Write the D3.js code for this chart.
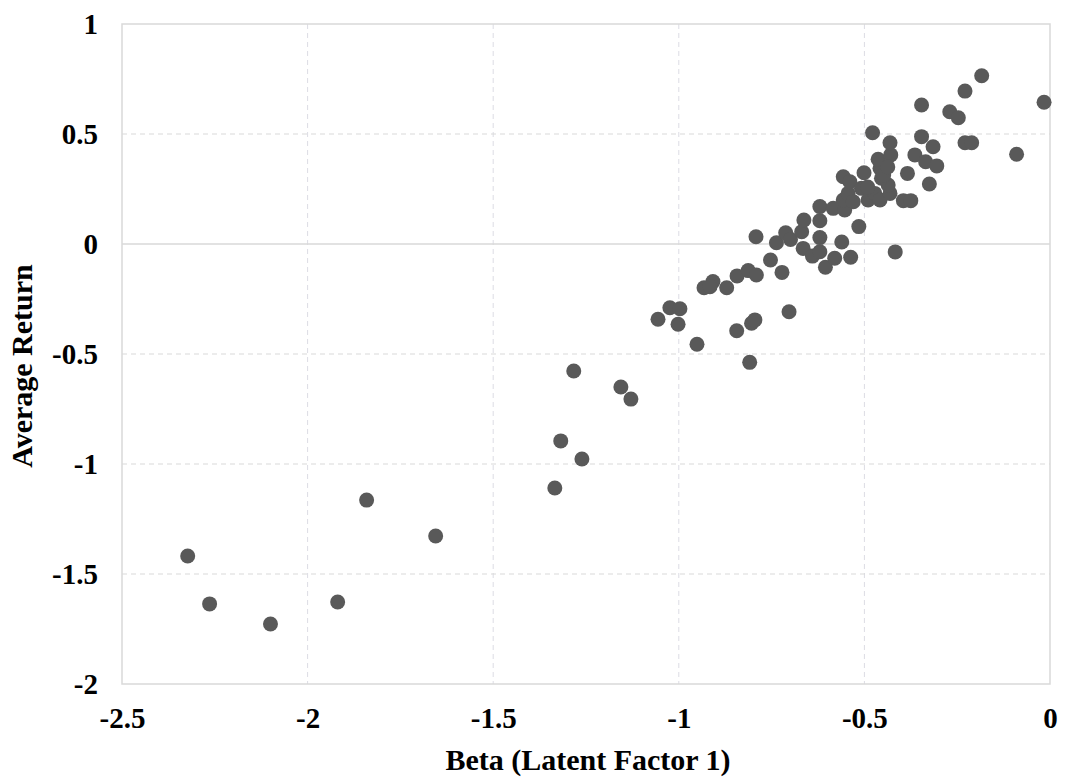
<!DOCTYPE html>
<html>
<head>
<meta charset="utf-8">
<script src="https://d3js.org/d3.v7.min.js"></script>
<style>
  body { margin: 0; background: #fff; }
  svg { display: block; }
</style>
</head>
<body>
<div id="chart"></div>
<script>
// Beta (latent factor 1) per asset
const betas = [
    -2.323, -2.264, -2.100, -1.919, -1.841, -1.655, -1.334, -1.318, -1.261, -1.283, -1.156, -1.129,
    -1.056, -1.024, -0.997, -1.002, -0.951, -0.809, -0.844, -0.804, -0.795, -0.703,
    -0.932, -0.908, -0.916, -0.871, -0.843, -0.813, -0.791, -0.753, -0.722,
    -0.792, -0.737, -0.712, -0.699, -0.665, -0.640, -0.620, -0.605, -0.580, -0.537, -0.561,
    -0.620, -0.669, -0.663, -0.620, -0.515, -0.417,
    -0.620, -0.584, -0.553, -0.557, -0.544, -0.530, -0.557, -0.539, -0.501, -0.508, -0.490,
    -0.472, -0.458, -0.431, -0.436, -0.454, -0.458, -0.463, -0.429, -0.431, -0.478, -0.491,
    -0.448, -0.437,
    -0.395, -0.375, -0.384, -0.364, -0.335, -0.305, -0.325, -0.346, -0.315, -0.346,
    -0.270, -0.247, -0.229, -0.211, -0.229, -0.184, -0.016, -0.090
];
// Average return per asset
const returns = [
    -1.418, -1.636, -1.727, -1.627, -1.164, -1.327, -1.109, -0.895, -0.977, -0.577, -0.650, -0.705,
    -0.342, -0.290, -0.294, -0.365, -0.456, -0.538, -0.394, -0.360, -0.345, -0.308,
    -0.199, -0.171, -0.194, -0.199, -0.145, -0.121, -0.141, -0.073, -0.129,
    0.033, 0.006, 0.051, 0.021, -0.020, -0.055, -0.035, -0.106, -0.065, -0.060, 0.009,
    0.029, 0.056, 0.109, 0.106, 0.079, -0.036,
    0.170, 0.162, 0.155, 0.200, 0.230, 0.192, 0.306, 0.283, 0.324, 0.253, 0.200,
    0.230, 0.200, 0.230, 0.268, 0.299, 0.344, 0.385, 0.405, 0.460, 0.506, 0.259,
    0.314, 0.350,
    0.197, 0.197, 0.321, 0.405, 0.374, 0.355, 0.273, 0.488, 0.442, 0.632,
    0.601, 0.574, 0.460, 0.460, 0.695, 0.765, 0.644, 0.408
];
const xTicks = [-2.5, -2, -1.5, -1, -0.5, 0];
const yTicks = [1, 0.5, 0, -0.5, -1, -1.5, -2];

const width = 1066, height = 779;
const margin = { top: 24, right: 16, bottom: 95, left: 122 };
const font = "'Liberation Serif', 'Times New Roman', serif";
const gridColor = "#d9d9d9";

const svg = d3.select("#chart").append("svg")
    .attr("width", width)
    .attr("height", height);

const x = d3.scaleLinear()
    .domain([-2.5, 0])
    .range([margin.left, width - margin.right]);

const y = d3.scaleLinear()
    .domain([-2, 1])
    .range([height - margin.bottom, margin.top]);

// gridlines
svg.append("g")
    .selectAll("line")
    .data(xTicks.slice(1, -1))
    .join("line")
    .attr("x1", d => x(d)).attr("x2", d => x(d))
    .attr("y1", y(1)).attr("y2", y(-2))
    .attr("stroke", "#dcdce4")
    .attr("stroke-dasharray", "5,4");

svg.append("g")
    .selectAll("line")
    .data(yTicks.filter(d => d !== 0 && d !== 1 && d !== -2))
    .join("line")
    .attr("x1", x(-2.5)).attr("x2", x(0))
    .attr("y1", d => y(d)).attr("y2", d => y(d))
    .attr("stroke", gridColor)
    .attr("stroke-dasharray", "5,4");

// zero line
svg.append("line")
    .attr("x1", x(-2.5)).attr("x2", x(0))
    .attr("y1", y(0)).attr("y2", y(0))
    .attr("stroke", gridColor)
    .attr("stroke-width", 1.5);

// plot frame
svg.append("rect")
    .attr("x", x(-2.5)).attr("y", y(1))
    .attr("width", x(0) - x(-2.5))
    .attr("height", y(-2) - y(1))
    .attr("fill", "none")
    .attr("stroke", gridColor)
    .attr("stroke-width", 1.5);

// axes (labels only)
const xAxis = svg.append("g")
    .attr("transform", `translate(0,${y(-2)})`)
    .call(d3.axisBottom(x).tickValues(xTicks).tickSize(0).tickPadding(23).tickFormat(d => d));
xAxis.select(".domain").remove();
xAxis.selectAll("text")
    .style("font-family", font)
    .style("font-weight", "bold")
    .style("font-size", "29px")
    .attr("fill", "#000");

const yAxis = svg.append("g")
    .attr("transform", `translate(${x(-2.5)},0)`)
    .call(d3.axisLeft(y).tickValues(yTicks).tickSize(0).tickPadding(24).tickFormat(d => d));
yAxis.select(".domain").remove();
yAxis.selectAll("text")
    .style("font-family", font)
    .style("font-weight", "bold")
    .style("font-size", "29px")
    .attr("fill", "#000");

// points
const points = betas.map((b, i) => ({ beta: b, ret: returns[i] }));
svg.append("g")
    .selectAll("circle")
    .data(points)
    .join("circle")
    .attr("cx", d => x(d.beta))
    .attr("cy", d => y(d.ret))
    .attr("r", 7.5)
    .attr("fill", "#595959");

// axis titles
svg.append("text")
    .attr("x", (x(-2.5) + x(0)) / 2 + 2)
    .attr("y", 770)
    .attr("text-anchor", "middle")
    .style("font-family", font)
    .style("font-weight", "bold")
    .style("font-size", "30px")
    .text("Beta (Latent Factor 1)");

svg.append("text")
    .attr("transform", `translate(32,${(y(1) + y(-2)) / 2 + 12}) rotate(-90)`)
    .attr("text-anchor", "middle")
    .style("font-family", font)
    .style("font-weight", "bold")
    .style("font-size", "30px")
    .text("Average Return");
</script>
</body>
</html>
